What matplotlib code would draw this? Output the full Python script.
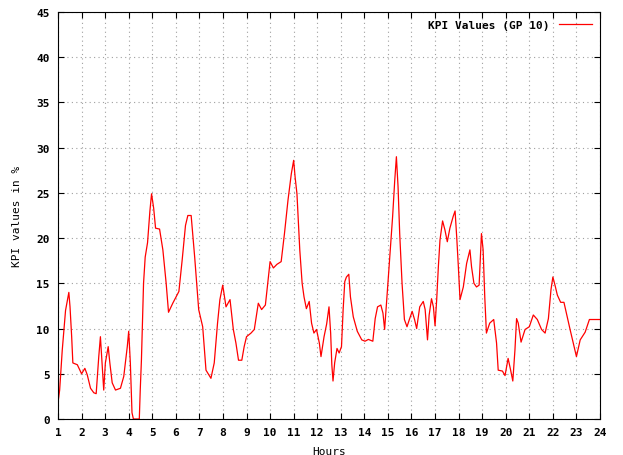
import matplotlib
matplotlib.use("Agg")
import matplotlib.pyplot as plt

hours = [
    1.00, 1.07, 1.18, 1.32, 1.46, 1.51, 1.58, 1.63, 1.82, 2.00,
    2.14, 2.24, 2.38, 2.52, 2.62, 2.73, 2.80, 2.87, 2.94, 3.01,
    3.13, 3.20, 3.30, 3.44, 3.65, 3.79, 3.94, 4.00, 4.07, 4.14,
    4.20, 4.45, 4.49, 4.54, 4.59, 4.63, 4.70, 4.80, 4.90, 4.97,
    5.06, 5.14, 5.31, 5.45, 5.59, 5.69, 5.87, 6.13, 6.27, 6.41,
    6.51, 6.65, 6.80, 6.97, 7.14, 7.28, 7.49, 7.63, 7.77, 7.87,
    7.99, 8.13, 8.30, 8.44, 8.55, 8.66, 8.80, 8.90, 9.00, 9.19,
    9.33, 9.40, 9.50, 9.64, 9.80, 9.90, 10.00, 10.14, 10.29, 10.47,
    10.61, 10.76, 10.90, 11.00, 11.06, 11.14, 11.26, 11.36, 11.44, 11.54,
    11.66, 11.76, 11.86, 11.97, 12.09, 12.16, 12.29, 12.40, 12.50, 12.57,
    12.62, 12.67, 12.74, 12.84, 12.93, 13.03, 13.10, 13.17, 13.24, 13.34,
    13.41, 13.53, 13.70, 13.89, 14.03, 14.17, 14.36, 14.46, 14.56, 14.70,
    14.79, 14.86, 14.93, 15.00, 15.10, 15.20, 15.29, 15.36, 15.43, 15.50,
    15.60, 15.70, 15.81, 15.91, 16.03, 16.13, 16.22, 16.35, 16.50, 16.58,
    16.68, 16.75, 16.85, 16.93, 17.00, 17.07, 17.14, 17.21, 17.32, 17.42,
    17.52, 17.63, 17.77, 17.85, 17.92, 17.99, 18.06, 18.20, 18.34, 18.48,
    18.55, 18.65, 18.76, 18.87, 18.97, 19.04, 19.11, 19.18, 19.32, 19.49,
    19.61, 19.68, 19.86, 19.97, 20.10, 20.20, 20.30, 20.39, 20.46, 20.53,
    20.65, 20.82, 21.00, 21.17, 21.34, 21.52, 21.67, 21.81, 21.92, 22.00,
    22.09, 22.19, 22.33, 22.47, 22.73, 23.00, 23.16, 23.37, 23.55, 24.00,
]

kpi_values = [
    1.8, 3.2, 7.6, 12.0, 14.0, 12.4, 9.1, 6.2, 6.0, 5.0,
    5.6, 4.9, 3.4, 2.9, 2.8, 6.9, 9.1, 6.2, 3.2, 6.2,
    8.0, 6.2, 4.0, 3.2, 3.4, 4.7, 8.0, 9.7, 6.2, 0.7,
    0.0, 0.0, 3.2, 6.5, 11.0, 15.0, 17.9, 19.5, 23.0, 24.9,
    23.3, 21.1, 21.0, 18.7, 15.0, 11.8, 12.8, 14.1, 17.6, 21.4,
    22.5, 22.5, 17.9, 12.1, 10.2, 5.4, 4.5, 6.2, 10.6, 13.2,
    14.8, 12.4, 13.2, 9.9, 8.4, 6.5, 6.5, 8.0, 9.1, 9.5,
    9.9, 11.1, 12.8, 12.1, 12.6, 15.0, 17.4, 16.7, 17.1, 17.4,
    20.5, 24.2, 27.1, 28.6, 26.8, 24.9, 18.7, 15.0, 13.5, 12.2,
    13.0, 10.6, 9.5, 9.9, 8.4, 6.9, 9.1, 10.5, 12.4, 9.5,
    6.0, 4.2, 6.2, 7.8, 7.3, 8.0, 12.1, 15.2, 15.7, 16.0,
    13.5, 11.3, 9.7, 8.75, 8.6, 8.8, 8.6, 11.1, 12.4, 12.6,
    11.7, 9.9, 12.4, 15.0, 18.7, 22.4, 26.4, 29.0, 25.7, 20.5,
    15.0, 11.0, 10.2, 11.0, 11.9, 11.0, 10.0, 12.4, 13.0, 12.1,
    8.75, 11.5, 13.3, 12.4, 10.3, 13.2, 16.8, 19.8, 21.9, 20.9,
    19.6, 21.1, 22.4, 23.0, 20.1, 16.8, 13.2, 14.6, 17.2, 18.7,
    16.8, 15.0, 14.6, 14.8, 20.5, 18.7, 13.5, 9.5, 10.6, 11.0,
    8.4, 5.4, 5.3, 4.8, 6.7, 5.5, 4.2, 7.6, 11.1, 10.6,
    8.5, 9.9, 10.2, 11.5, 11.0, 9.9, 9.5, 11.1, 14.3, 15.7,
    14.8, 13.7, 12.9, 12.9, 9.9, 6.9, 8.75, 9.6, 11.0, 11.0,
]

x_ticks = list(range(1, 25))
y_ticks = list(range(0, 46, 5))

plt.rcParams["font.family"] = "DejaVu Sans Mono"
plt.rcParams["font.weight"] = "bold"
plt.rcParams["font.size"] = 8

fig = plt.figure(figsize=(6.23, 4.56), dpi=100)
ax = fig.add_axes([58 / 623, 36 / 456, 542 / 623, 407 / 456])

ax.plot(hours, kpi_values, color="#ff0000", linewidth=0.9, label="KPI Values (GP 10)")

ax.set_xlim(1, 24)
ax.set_ylim(0, 45)
ax.set_xticks(x_ticks)
ax.set_yticks(y_ticks)
ax.tick_params(direction="in", top=True, right=True, length=4, width=0.8, pad=6)
ax.grid(True, linestyle=(0, (1, 3)), color="#a0a0a0", linewidth=0.8)
for spine in ax.spines.values():
    spine.set_linewidth(0.8)

ax.set_xlabel("Hours", labelpad=6)
ax.set_ylabel("KPI values in %", labelpad=10)

ax.legend(loc="upper right", frameon=False, markerfirst=False, handlelength=3,
          borderaxespad=0.3, fontsize=8)

fig.savefig("out.png", dpi=100)
